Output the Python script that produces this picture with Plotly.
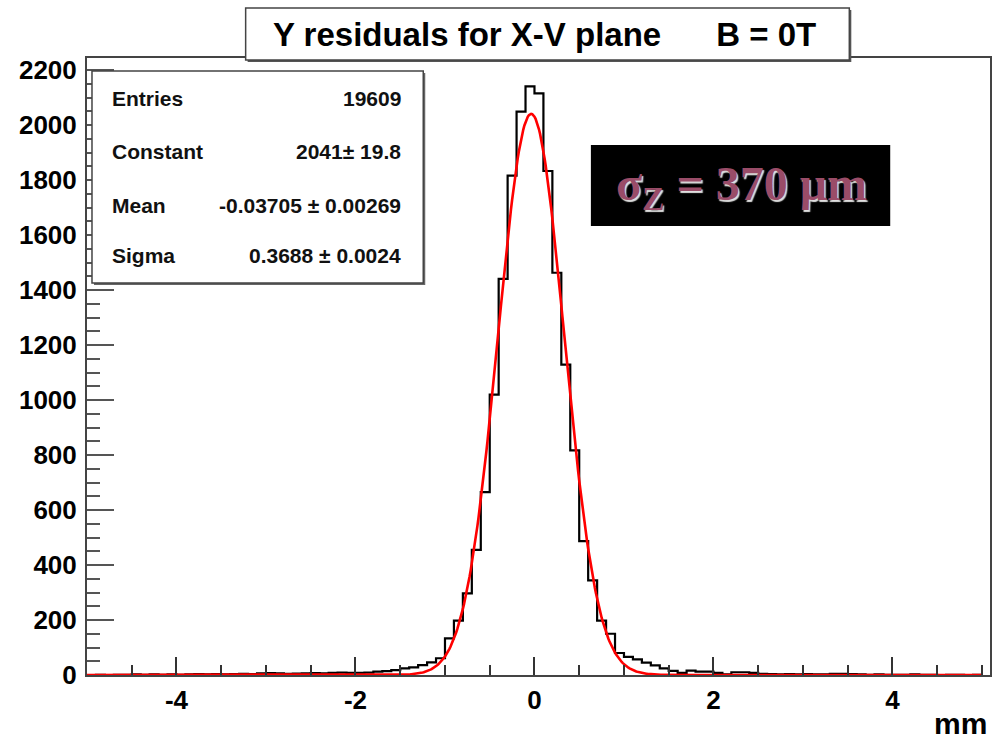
import numpy as np
import plotly.graph_objects as go

# ---------------- data ----------------
bin_lo = -5.0
bin_hi = 5.0
counts = [
    0, 1, 0, 1, 1, 2, 1, 2, 1, 2,            # -5.0 .. -4.0
    1, 2, 3, 2, 3, 2, 3, 4, 3, 6,            # -4.0 .. -3.0
    7, 6, 4, 5, 6, 7, 6, 8, 9, 8,            # -3.0 .. -2.0
    8, 9, 12, 14, 18, 24, 28, 36, 46, 61,    # -2.0 .. -1.0
    133, 198, 297, 455, 665, 1020, 1441, 1816, 2049, 2141,  # -1.0 .. 0
    2115, 1833, 1463, 1129, 817, 487, 344, 198, 150, 80,    # 0 .. 1.0
    66, 57, 45, 35, 24, 15, 8, 16, 12, 12,   # 1.0 .. 2.0
    8, 2, 10, 10, 8, 4, 3, 2, 3, 2,          # 2.0 .. 3.0
    3, 2, 2, 4, 4, 3, 2, 1, 2, 1,            # 3.0 .. 4.0
    1, 1, 2, 1, 1, 0, 1, 1, 0, 1,            # 4.0 .. 5.0
]
fit_constant = 2041.0
fit_mean = -0.03705
fit_sigma = 0.3688

stat_labels = ["Entries", "Constant", "Mean", "Sigma"]
stat_values = ["19609", "2041\u00b1 19.8", "-0.03705 \u00b1 0.00269", "0.3688 \u00b1 0.0024"]

title_text = "Y residuals for X-V plane      B = 0T"
xaxis_title = "mm"
note_text = "\u03c3<sub>Z</sub> = 370 \u03bcm"

x_ticks = [-4, -2, 0, 2, 4]
x_tick_labels = ["-4", "-2", "0", "2", "4"]
y_ticks = [0, 200, 400, 600, 800, 1000, 1200, 1400, 1600, 1800, 2000, 2200]
y_tick_labels = [str(v) for v in y_ticks]

# ---------------- geometry helpers ----------------
W, H = 996, 743
ML, MR, MT, MB = 87, 4, 58, 68
PW = W - ML - MR
PH = H - MT - MB


def px(x):
    return (x - ML) / PW


def py(y):
    return (H - MB - y) / PH


nb = len(counts)
edges = np.linspace(bin_lo, bin_hi, nb + 1)
step_x = list(edges)
step_y = list(counts) + [counts[-1]]

xf = np.linspace(bin_lo, bin_hi, 801)
yf = fit_constant * np.exp(-0.5 * ((xf - fit_mean) / fit_sigma) ** 2)

fig = go.Figure()
fig.add_trace(go.Scatter(x=step_x, y=step_y, mode="lines", line_shape="hv",
                         line=dict(color="black", width=2.2), hoverinfo="skip"))
fig.add_trace(go.Scatter(x=xf, y=yf, mode="lines",
                         line=dict(color="#ff0000", width=2.6), hoverinfo="skip"))

FONT = "Liberation Sans"
fig.update_layout(
    width=W, height=H,
    margin=dict(l=ML, r=MR, t=MT, b=MB),
    paper_bgcolor="white", plot_bgcolor="white",
    showlegend=False,
    font=dict(family=FONT, color="black"),
)
fig.update_xaxes(
    range=[-5, 5.09], tickvals=x_ticks, ticktext=x_tick_labels,
    ticks="inside", ticklen=18, tickwidth=1.5,
    tickcolor="#333", showgrid=False, zeroline=False,
    showline=True, linecolor="#444", linewidth=2, mirror=True,
    tickfont=dict(family=FONT, size=26, weight="bold", color="black"),
    ticklabelstandoff=1,
    minor=dict(dtick=0.5, tick0=0, ticks="inside", ticklen=10, tickwidth=1.5, tickcolor="#333"),
)
fig.update_yaxes(
    range=[0, 2244], tickvals=y_ticks, ticktext=y_tick_labels,
    ticks="inside", ticklen=27, tickwidth=1.5,
    tickcolor="#555", showgrid=False, zeroline=False,
    showline=True, linecolor="#444", linewidth=2, mirror=True,
    tickfont=dict(family=FONT, size=26, weight="bold", color="black"),
    ticklabelstandoff=3,
    minor=dict(dtick=50, tick0=0, ticks="inside", ticklen=13, tickwidth=1.5, tickcolor="#555"),
)

shapes = []
annotations = []

# title box with shadow
shapes.append(dict(type="rect", xref="paper", yref="paper",
                   x0=px(248), x1=px(853), y0=py(62), y1=py(10),
                   fillcolor="#555", line=dict(width=0), layer="above"))
shapes.append(dict(type="rect", xref="paper", yref="paper",
                   x0=px(246), x1=px(851), y0=py(60), y1=py(8),
                   fillcolor="white", line=dict(color="#444", width=1.5), layer="above"))
annotations.append(dict(xref="paper", yref="paper", x=px(546), y=py(34),
                        text=title_text, showarrow=False, xanchor="center", yanchor="middle",
                        font=dict(family=FONT, size=33, weight="bold", color="black")))

# stats box with shadow
shapes.append(dict(type="rect", xref="paper", yref="paper",
                   x0=px(94), x1=px(426), y0=py(285), y1=py(73),
                   fillcolor="#666", line=dict(width=0), layer="above"))
shapes.append(dict(type="rect", xref="paper", yref="paper",
                   x0=px(92), x1=px(424), y0=py(283), y1=py(71),
                   fillcolor="white", line=dict(color="#444", width=1.5), layer="above"))
row_y = [99, 152, 205, 256]
for lab, val, ry in zip(stat_labels, stat_values, row_y):
    annotations.append(dict(xref="paper", yref="paper", x=px(110), y=py(ry),
                            text=lab, showarrow=False, xanchor="left", yanchor="middle",
                            font=dict(family=FONT, size=21, weight="bold", color="#111")))
    annotations.append(dict(xref="paper", yref="paper", x=px(404), y=py(ry),
                            text=val, showarrow=False, xanchor="right", yanchor="middle",
                            font=dict(family=FONT, size=21, weight="bold", color="#111")))

# sigma note box
shapes.append(dict(type="rect", xref="paper", yref="paper",
                   x0=px(592), x1=px(892), y0=py(226), y1=py(145),
                   fillcolor="black", line=dict(width=0), layer="above"))
annotations.append(dict(xref="paper", yref="paper", x=px(743), y=py(187),
                        text=note_text, showarrow=False, xanchor="center", yanchor="middle",
                        font=dict(family="Liberation Serif", size=48, weight="bold",
                                  color="#9a4c68", shadow="1.5px 1.5px 1px #e0e0e0")))

# x-axis title
annotations.append(dict(xref="paper", yref="paper", x=px(990), y=py(723),
                        text=xaxis_title, showarrow=False, xanchor="right", yanchor="middle",
                        borderpad=0,
                        font=dict(family=FONT, size=30, weight="bold", color="black")))

fig.update_layout(shapes=shapes, annotations=annotations)
fig.write_html("out.html")
